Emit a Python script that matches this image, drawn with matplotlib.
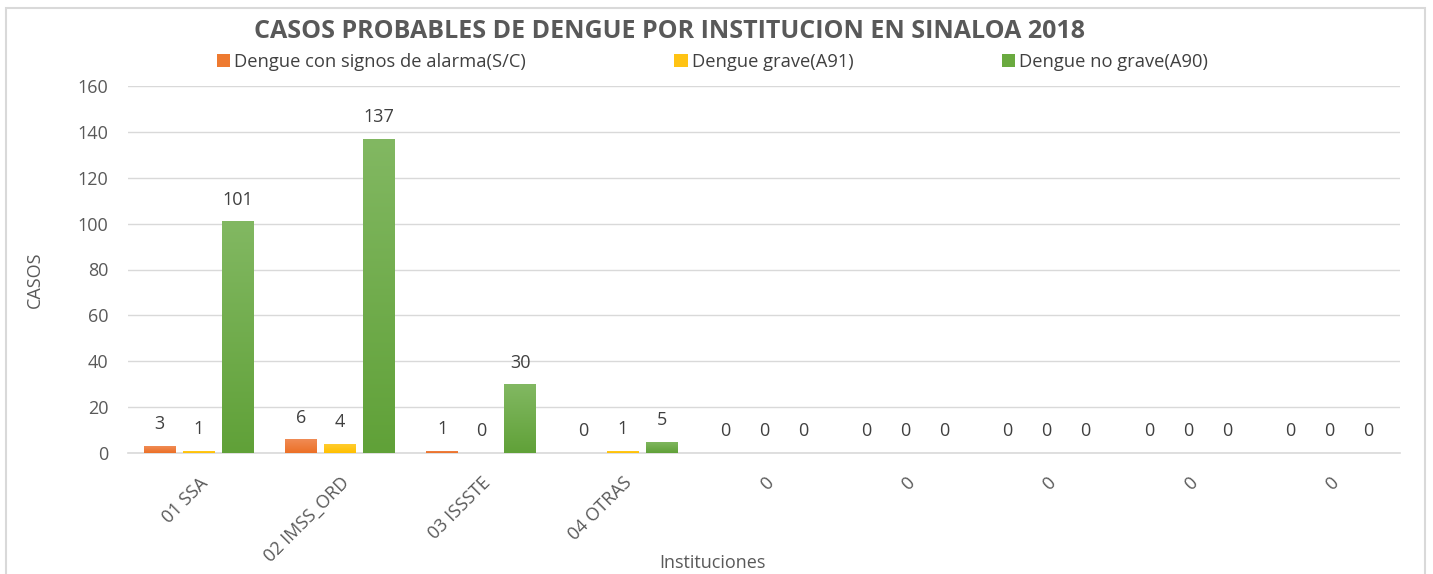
import matplotlib
matplotlib.use("Agg")
import matplotlib.pyplot as plt
import numpy as np
from matplotlib.patches import Rectangle
from matplotlib.colors import LinearSegmentedColormap

categories = ["01 SSA", "02 IMSS_ORD", "03 ISSSTE", "04 OTRAS", "0", "0", "0", "0", "0"]
series_names = ["Dengue con signos de alarma(S/C)", "Dengue grave(A91)", "Dengue no grave(A90)"]
alarma = [3, 6, 1, 0, 0, 0, 0, 0, 0]
grave = [1, 4, 0, 1, 0, 0, 0, 0, 0]
no_grave = [101, 137, 30, 5, 0, 0, 0, 0, 0]
colors = ["#EE7A30", "#FFC313", "#6AAA3F"]
grad_top = ["#F08B55", "#FFCD33", "#82B862"]
grad_bot = ["#EC7026", "#FFC000", "#60A138"]
yticks = [0, 20, 40, 60, 80, 100, 120, 140, 160]

plt.rcParams['font.family'] = ['Open Sans', 'DejaVu Sans']

W, H = 1433, 574
fig = plt.figure(figsize=(W / 100, H / 100), dpi=100)
fig.patches.append(Rectangle((6 / W, -0.01), 1419 / W, 1 - 8 / H + 0.01, transform=fig.transFigure,
                             fill=False, edgecolor="#D9D9D9", linewidth=1.5))
ax = fig.add_axes([128 / W, 1 - 453 / H, 1272 / W, (453 - 86) / H])

x = np.arange(len(categories))
w = 0.226
step = 0.276
txtc = "#404040"
grad = np.linspace(1, 0, 256).reshape(-1, 1)
for i, (vals, name, c) in enumerate(zip([alarma, grave, no_grave], series_names, colors)):
    bars = ax.bar(x + (i - 1) * step, vals, width=w, color=c, label=name, zorder=3)
    cmap = LinearSegmentedColormap.from_list("g%d" % i, [grad_bot[i], grad_top[i]])
    for b, v in zip(bars, vals):
        if v > 0:
            im = ax.imshow(grad, cmap=cmap, aspect="auto", zorder=3.5,
                           extent=(b.get_x(), b.get_x() + b.get_width(), 0, v))
            im.set_clip_path(b)
        ax.annotate(str(v), (b.get_x() + b.get_width() / 2, v), xytext=(0, 12),
                    textcoords="offset points", ha="center", va="baseline",
                    fontsize=13, color=txtc)

ax.set_xlim(-0.5, len(categories) - 0.5)
ax.set_ylim(0, 160)
ax.set_yticks(yticks)
ax.yaxis.grid(True, color="#D9D9D9", linewidth=1.0, zorder=0)
ax.set_axisbelow(True)
for s in ["top", "right", "left"]:
    ax.spines[s].set_visible(False)
ax.spines["bottom"].set_color("#D9D9D9")
ax.spines["bottom"].set_linewidth(1.2)
ax.spines["bottom"].set_zorder(2)
ax.tick_params(axis="both", length=0, colors="#595959", labelsize=13)
ax.tick_params(axis="y", pad=14)
ax.set_xticks(x)
ax.set_xticklabels(categories, rotation=45, ha="right", va="top", rotation_mode="anchor")
ax.tick_params(axis="x", pad=15)

fig.text(35 / W, 1 - 280 / H, "CASOS", rotation=90, ha="center", va="center",
         fontsize=13, color="#595959")
fig.text(712 / W, 1 - 563 / H, "Instituciones", ha="center", va="center",
         fontsize=13, color="#595959")
fig.text(670 / W, 1 - 31 / H, "CASOS PROBABLES DE DENGUE POR INSTITUCION EN SINALOA 2018",
         ha="center", va="center", fontsize=18, fontweight="bold", color="#595959")

leg = ax.legend(loc="center left", bbox_to_anchor=(217 / W, 1 - 62 / H), bbox_transform=fig.transFigure,
                ncol=3, frameon=False, fontsize=13.2, handlelength=0.72, handleheight=0.72,
                handletextpad=0.22, columnspacing=8.1, borderaxespad=0, borderpad=0)
for t in leg.get_texts():
    t.set_color("#404040")

fig.savefig("out.png", dpi=100, facecolor="white")
